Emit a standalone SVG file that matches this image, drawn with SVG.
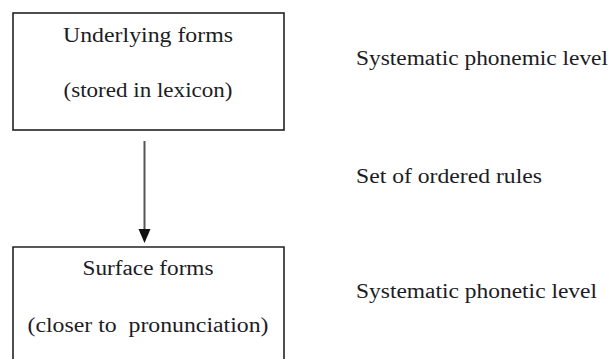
<svg xmlns="http://www.w3.org/2000/svg" width="610" height="359" viewBox="0 0 610 359">
<style>
.t{font-family:"Liberation Serif","Times New Roman",serif;font-size:20.5px;fill:#1c1c24;white-space:pre}
.box{fill:none;stroke:#222;stroke-width:1.6}
.conn{stroke:#555;stroke-width:2;fill:none}
.head{fill:#111}
</style>
<rect width="610" height="359" fill="#fff"/>
<g id="underlying">
<rect class="box" x="13" y="13" width="271" height="117"/>
<text class="t" x="148" y="42" text-anchor="middle" textLength="170" lengthAdjust="spacingAndGlyphs">Underlying forms</text>
<text class="t" x="148" y="97" text-anchor="middle" textLength="169" lengthAdjust="spacingAndGlyphs">(stored in lexicon)</text>
</g>
<g id="surface">
<path class="box" d="M13,359 V247 H284 V359"/>
<text class="t" x="148" y="275" text-anchor="middle" textLength="131" lengthAdjust="spacingAndGlyphs">Surface forms</text>
<text class="t" x="148" y="332" text-anchor="middle" textLength="241" lengthAdjust="spacingAndGlyphs">(closer to  pronunciation)</text>
</g>
<g id="labels">
<text class="t" x="356" y="65" textLength="252" lengthAdjust="spacingAndGlyphs">Systematic phonemic level</text>
<text class="t" x="356" y="183" textLength="186" lengthAdjust="spacingAndGlyphs">Set of ordered rules</text>
<text class="t" x="356" y="298" textLength="241" lengthAdjust="spacingAndGlyphs">Systematic phonetic level</text>
</g>
<g id="connectors">
<line class="conn" x1="144.5" y1="141" x2="144.5" y2="230"/>
<path class="head" d="M138.5,229 L150.5,229 L144.5,243 z"/>
</g>
</svg>
